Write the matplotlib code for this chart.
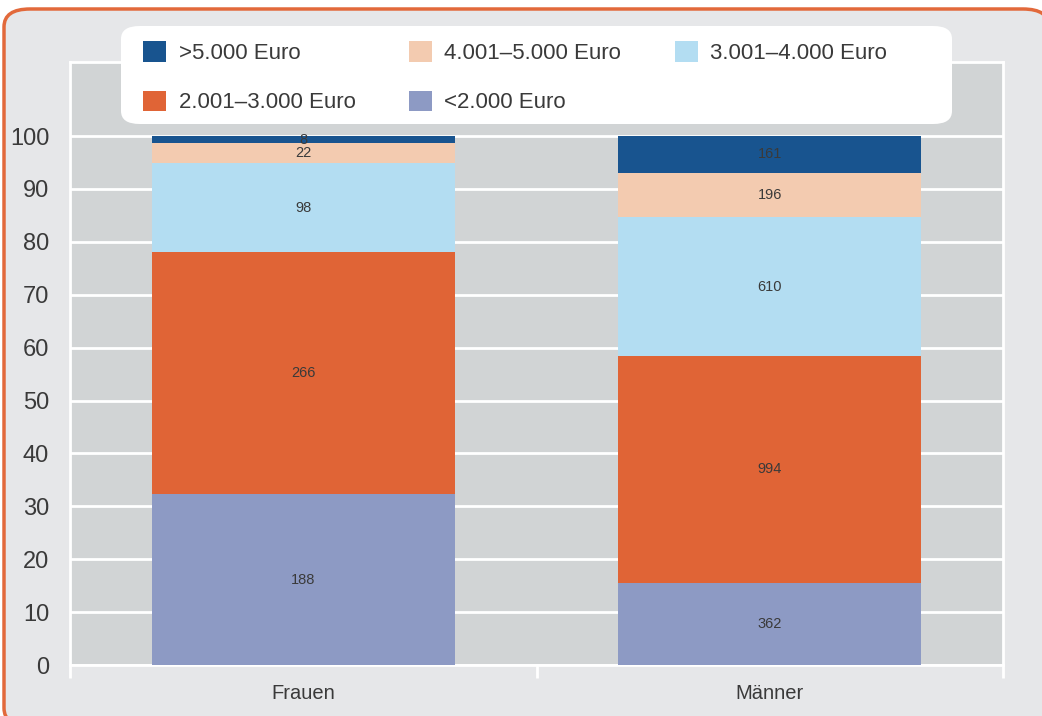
import matplotlib.pyplot as plt
from matplotlib.patches import FancyBboxPatch, Patch
import numpy as np

plt.rcParams['font.family'] = ['Liberation Sans', 'DejaVu Sans']

# Einkommensgruppen nach Geschlecht (Anzahl Personen)
gruppen = ['Frauen', 'Männer']
klassen = ['<2.000 Euro', '2.001–3.000 Euro', '3.001–4.000 Euro',
           '4.001–5.000 Euro', '>5.000 Euro']
unter_2000 = [188, 362]
bis_3000 = [266, 994]
bis_4000 = [98, 610]
bis_5000 = [22, 196]
ueber_5000 = [8, 161]

farben = ['#8d9ac4', '#e06436', '#b3ddf2', '#f3cbb0', '#18548f']
textfarbe = '#3a3a3a'

werte = np.array([unter_2000, bis_3000, bis_4000, bis_5000, ueber_5000], dtype=float)
anteile = werte / werte.sum(axis=0) * 100

W, H = 1042, 716
fig = plt.figure(figsize=(W / 100, H / 100), dpi=100, facecolor='white')

# Hintergrundkasten mit orangem Rand
rahmen = FancyBboxPatch((4 / W, -10 / H), 1045 / W, 717 / H,
                        boxstyle='round,pad=0,rounding_size=0.025',
                        transform=fig.transFigure, facecolor='#e6e7e9',
                        edgecolor='#e2693b', linewidth=2.5, zorder=-10)
fig.patches.append(rahmen)

ax = fig.add_axes([70 / W, 1 - 665 / H, 933 / W, 603 / H])
ax.set_facecolor('#d1d4d5')

x = np.arange(len(gruppen))
unten = np.zeros(len(gruppen))
for i, klasse in enumerate(klassen):
    bars = ax.bar(x, anteile[i], width=0.65, bottom=unten, color=farben[i],
                  label=klasse, zorder=3)
    for j, b in enumerate(bars):
        ax.text(b.get_x() + b.get_width() / 2, unten[j] + anteile[i][j] / 2,
                f'{int(werte[i][j])}', ha='center', va='center',
                fontsize=10.5, color=textfarbe, zorder=4)
    unten += anteile[i]

ax.set_xlim(-0.5, 1.5)
ax.set_ylim(0, 114)
ax.set_yticks(np.arange(0, 101, 10))
ax.grid(axis='y', color='white', linewidth=2, zorder=1)
ax.set_axisbelow(True)
ax.set_xticks(x)
ax.set_xticklabels(gruppen)
ax.set_xticks([-0.5, 0.5, 1.5], minor=True)
ax.tick_params(axis='x', which='major', length=0, pad=14, labelsize=14.5,
               labelcolor=textfarbe)
ax.tick_params(axis='x', which='minor', length=9, width=2, color='white')
ax.tick_params(axis='y', length=0, pad=15, labelsize=17, labelcolor=textfarbe)
for s in ax.spines.values():
    s.set_color('white')
    s.set_linewidth(2)

# weißer Kasten hinter der Legende
kasten = FancyBboxPatch((121 / W, 1 - 124 / H), 831 / W, 98 / H,
                        boxstyle='round,pad=0,rounding_size=0.018',
                        transform=fig.transFigure, facecolor='white',
                        edgecolor='none', zorder=4)
fig.patches.append(kasten)

# Legende zeilenweise: obere Klassen zuerst
reihenfolge = [4, 1, 3, 0, 2]
handles = [Patch(facecolor=farben[k]) for k in reihenfolge]
labels = [klassen[k] for k in reihenfolge]
leg = fig.legend(handles, labels, ncol=3, loc='upper left',
                 bbox_to_anchor=(143 / W, 1 - 41 / H),
                 frameon=False, fontsize=16, handlelength=1.05, handleheight=1.05,
                 handletextpad=0.55, columnspacing=2.4, labelspacing=1.2,
                 borderpad=0, borderaxespad=0, labelcolor=textfarbe)
leg.set_zorder(5)

fig.savefig('out.png', dpi=100, facecolor='white')
